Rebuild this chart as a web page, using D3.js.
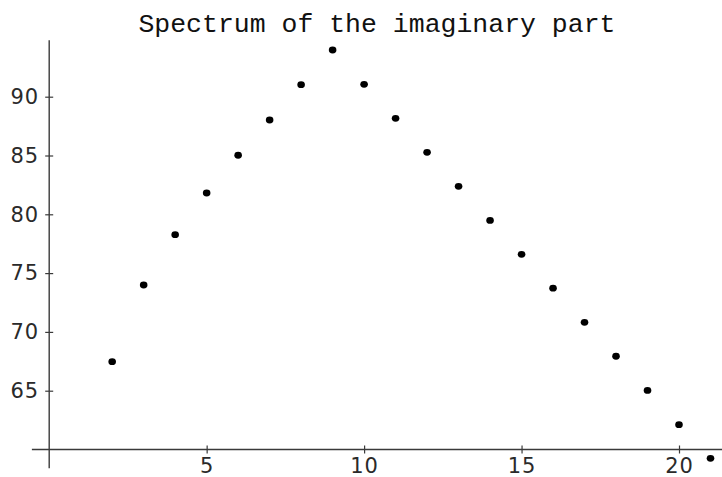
<!DOCTYPE html>
<html>
<head>
<meta charset="utf-8">
<script src="https://cdn.jsdelivr.net/npm/d3@7"></script>
<style>
  html, body { margin: 0; padding: 0; background: #fff; }
  svg { display: block; }
</style>
</head>
<body>
<script>
// Eigenvalue index and the imaginary part of each eigenvalue
const indices = [2, 3, 4, 5, 6, 7, 8, 9, 10, 11, 12, 13, 14, 15, 16, 17, 18, 19, 20, 21];
const imagParts = [67.47, 73.99, 78.27, 81.81, 85.02, 88.02, 91.02, 93.97, 91.05, 88.16,
                   85.27, 82.38, 79.48, 76.60, 73.72, 70.81, 67.93, 65.02, 62.11, 59.25];
const xTicks = [5, 10, 15, 20];
const yTicks = [65, 70, 75, 80, 85, 90];
const xAxisSpan = [-0.55, 21.5];
const yAxisSpan = [58.4, 94.8];
const title = "Spectrum of the imaginary part";

const W = 722, H = 477;
const svg = d3.select("body").append("svg").attr("width", W).attr("height", H);

const x = d3.scaleLinear().domain([0, 20]).range([49.2, 679]);
const y = d3.scaleLinear().domain([60, 90]).range([449.5, 96.7]);

const axisColor = "#3a3a3a";
const tickFont = "'DejaVu Sans', sans-serif";

// Axes cross at (0, 60)
const xAxis = svg.append("g").attr("transform", `translate(0,${y(60)})`)
  .call(d3.axisBottom(x).tickValues(xTicks).tickSize(4).tickPadding(5));
xAxis.select(".domain").remove();
xAxis.append("line")
  .attr("x1", x(xAxisSpan[0])).attr("x2", x(xAxisSpan[1]))
  .attr("stroke", axisColor).attr("stroke-width", 1.4);
xAxis.selectAll(".tick line").attr("y1", -4).attr("y2", 4)
  .attr("stroke", axisColor).attr("stroke-width", 1.2);
xAxis.selectAll(".tick text")
  .attr("font-family", tickFont).attr("font-size", 21).attr("fill", "#2a2a2a")
  .attr("letter-spacing", 1);

const yAxis = svg.append("g").attr("transform", `translate(${x(0)},0)`)
  .call(d3.axisLeft(y).tickValues(yTicks).tickSize(4).tickPadding(6));
yAxis.select(".domain").remove();
yAxis.append("line")
  .attr("y1", y(yAxisSpan[0])).attr("y2", y(yAxisSpan[1]))
  .attr("stroke", axisColor).attr("stroke-width", 1.4);
yAxis.selectAll(".tick line").attr("x1", -4).attr("x2", 4)
  .attr("stroke", axisColor).attr("stroke-width", 1.2);
yAxis.selectAll(".tick text")
  .attr("font-family", tickFont).attr("font-size", 21).attr("fill", "#2a2a2a")
  .attr("letter-spacing", 1);

// Points
svg.append("g").selectAll("ellipse")
  .data(indices.map((d, i) => [d, imagParts[i]]))
  .join("ellipse")
  .attr("cx", d => x(d[0]))
  .attr("cy", d => y(d[1]))
  .attr("rx", 3.8).attr("ry", 3.4)
  .attr("fill", "#000");

// Title
svg.append("text")
  .attr("x", (x(xAxisSpan[0]) + W) / 2)
  .attr("y", 32)
  .attr("text-anchor", "middle")
  .attr("font-family", "'Liberation Mono', 'Courier New', monospace")
  .attr("font-size", 26.5)
  .attr("fill", "#111")
  .text(title);
</script>
</body>
</html>
